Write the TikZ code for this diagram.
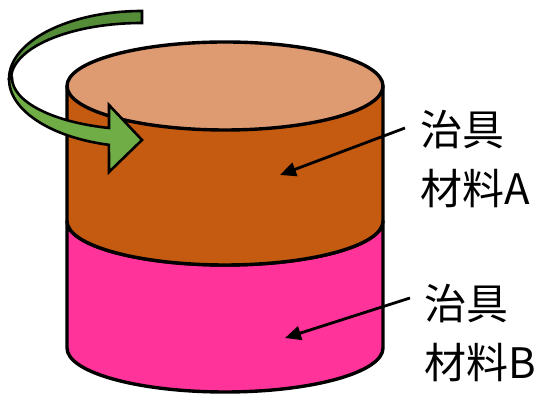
\documentclass[tikz,border=0pt]{standalone}
\usepackage{fontspec}
\newfontfamily\jpfont{Noto Sans CJK JP}
\usetikzlibrary{arrows.meta}
\definecolor{topface}{HTML}{DE9A71}
\definecolor{bodyA}{HTML}{C55A11}
\definecolor{bodyB}{HTML}{FF3399}
\definecolor{turnDark}{HTML}{548C38}
\definecolor{turnLight}{HTML}{70AD47}
\tikzset{
  outline/.style={draw=black, line width=3.4pt, line join=round},
  turn/.style={draw=black, line width=2.6pt, line join=miter},
  label/.style={font=\jpfont\fontsize{42}{59}\selectfont, align=left, inner sep=0pt, anchor=west},
  pointer/.style={draw=black, line width=2.8pt, -{Triangle[length=16pt,width=14pt]}}
}
\begin{document}
\begin{tikzpicture}[x=1pt,y=1pt]
\useasboundingbox (0,0) rectangle (547,395);

% back half of the rotation arrow (behind)
\path[turn, fill=turnDark]
  (142,384) arc[start angle=90, end angle=180, x radius=133, y radius=68]
  -- (11,316) arc[start angle=180, end angle=90, x radius=131, y radius=56]
  -- cycle;

% lower part: material B
\path[outline, fill=bodyB]
  (67,174) -- (67,47) arc[start angle=180, end angle=360, x radius=158, y radius=44]
  -- (383,174) arc[start angle=0, end angle=-180, x radius=158, y radius=44] -- cycle;

% upper part: material A
\path[outline, fill=bodyA]
  (67,309) -- (67,174) arc[start angle=180, end angle=360, x radius=158, y radius=44]
  -- (383,309) -- cycle;

% top face
\path[outline, fill=topface] (225,309) ellipse[x radius=158, y radius=44];

% front half of the rotation arrow with its head
\path[turn, fill=turnLight]
  (9,316) arc[start angle=180, end angle=255.6, x radius=133, y radius=68]
  -- (109,223) -- (142,255) -- (109,290) -- (109,267)
  arc[start angle=255.3, end angle=180, x radius=130, y radius=52]
  -- cycle;

% labels
\node[label] (labA) at (420,236) {治具\\材料A};
\node[label] (labB) at (424,62) {治具\\材料B};

\coordinate (fromA) at (405,267);
\coordinate (toA) at (280,220);
\coordinate (fromB) at (410,97);
\coordinate (toB) at (285,57);
\draw[pointer] (fromA) -- (toA);
\draw[pointer] (fromB) -- (toB);
\end{tikzpicture}
\end{document}
